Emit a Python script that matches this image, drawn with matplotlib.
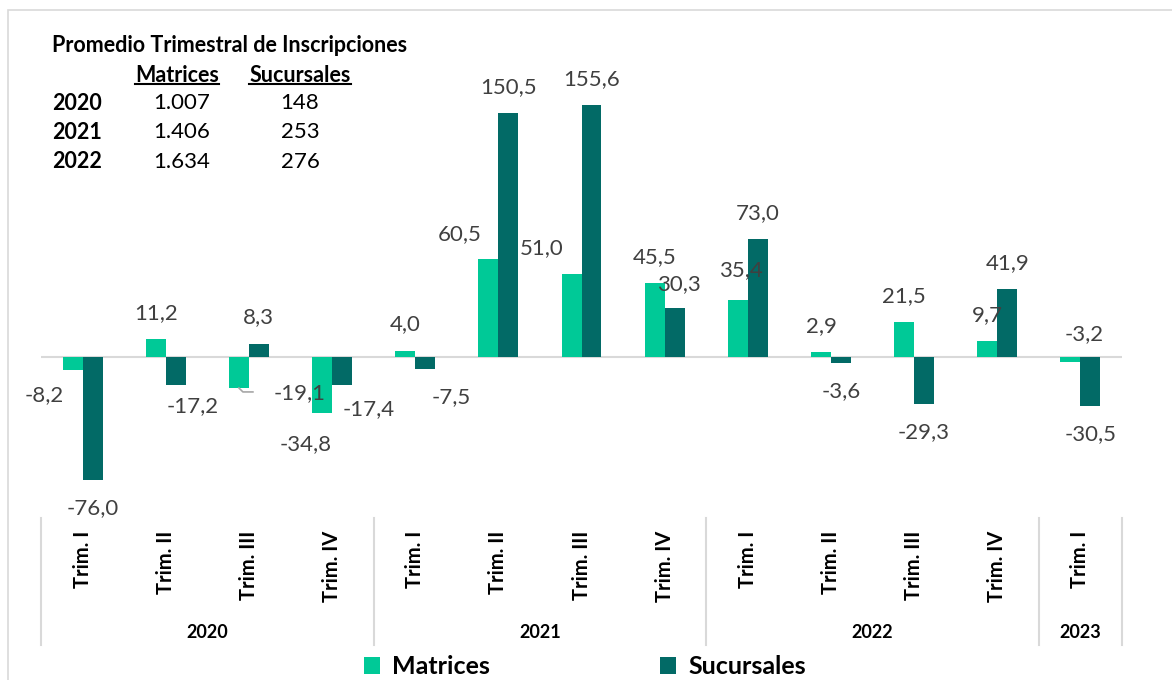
import matplotlib

matplotlib.use("Agg")

import matplotlib.pyplot as plt
import matplotlib.transforms as mtransforms
from matplotlib.lines import Line2D
from matplotlib.patches import Rectangle
import numpy as np

plt.rcParams["font.family"] = ["Lato", "DejaVu Sans"]

# Quarter labels and years
quarters = ["Trim. I", "Trim. II", "Trim. III", "Trim. IV",
            "Trim. I", "Trim. II", "Trim. III", "Trim. IV",
            "Trim. I", "Trim. II", "Trim. III", "Trim. IV",
            "Trim. I"]
years = ["2020", "2021", "2022", "2023"]
quarters_per_year = [4, 4, 4, 1]

# Growth values (%)
matrices = [-8.2, 11.2, -19.1, -34.8, 4.0, 60.5, 51.0, 45.5, 35.4, 2.9, 21.5, 9.7, -3.2]
sucursales = [-76.0, -17.2, 8.3, -17.4, -7.5, 150.5, 155.6, 30.3, 73.0, -3.6, -29.3, 41.9, -30.5]

# Summary table in the upper-left corner
table_title = "Promedio Trimestral de Inscripciones"
table_years = ["2020", "2021", "2022"]
table_matrices = ["1.007", "1.406", "1.634"]
table_sucursales = ["148", "253", "276"]

COLOR_MAT = "#00C997"
COLOR_SUC = "#026A66"
GRID = "#D9D9D9"
LABEL = "#404040"

W, H = 1172, 680


def fx(px):
    return px / W


def fy(py):
    return 1 - py / H


# Label offsets in pixels from the bar tip, where they differ from the default
mat_offsets = {0: (-28, -25), 2: (61, -5), 3: (-16, -31), 5: (-29, 25),
               6: (-30, 26), 8: (3, 30), 12: (14, 28)}
suc_offsets = {1: (17, -21), 3: (27, -24), 4: (26, -28), 7: (4, 24)}

fig = plt.figure(figsize=(W / 100, H / 100), dpi=100)
ax = fig.add_axes([fx(41), fy(518), fx(1122) - fx(41), (518 - 20) / H])

x = np.arange(len(quarters))
bw = 0.24
bars_m = ax.bar(x - bw / 2, matrices, bw, color=COLOR_MAT, label="Matrices")
bars_s = ax.bar(x + bw / 2, sucursales, bw, color=COLOR_SUC, label="Sucursales")

ax.axhline(0, color=GRID, lw=1.5, zorder=0)
ax.set_xlim(-0.5, len(quarters) - 0.5)
ax.set_ylim(-(518 - 357) / 1.62, (357 - 20) / 1.62)
ax.set_xticks([])
ax.set_yticks([])
for s in ax.spines.values():
    s.set_visible(False)


def fmt(v):
    return f"{v:.1f}".replace(".", ",")


def label_bars(xs, vals, offsets):
    for i, (xi, v) in enumerate(zip(xs, vals)):
        dx, dy = offsets.get(i, (0, 26 if v >= 0 else -28))
        ax.annotate(fmt(v), (xi, v), xytext=(dx, dy), textcoords="offset pixels",
                    ha="center", va="center", fontsize=16, color=LABEL,
                    annotation_clip=False)


label_bars(x - bw / 2, matrices, mat_offsets)
label_bars(x + bw / 2, sucursales, suc_offsets)

# leader line for the -19,1 label
i = 2
x0 = x[i] - bw / 2
ax.plot([x0, x0 + 4 / 83.15, x0 + 14 / 83.15],
        [matrices[i], matrices[i] - 4 / 1.62, matrices[i] - 4 / 1.62],
        color="#A6A6A6", lw=1.2, clip_on=False)

# category axis
blend = mtransforms.blended_transform_factory(ax.transData, fig.transFigure)
edges = np.concatenate([[0], np.cumsum(quarters_per_year)]) - 0.5
for e in edges:
    ax.add_line(Line2D([e, e], [fy(518), fy(645)], transform=blend,
                       color=GRID, lw=1.5, clip_on=False))
for xi, q in zip(x, quarters):
    ax.text(xi, fy(531), q, transform=blend, rotation=90, ha="center", va="top",
            fontsize=14.5, fontweight="bold", color="black")
for y0, y1, yr in zip(edges[:-1], edges[1:], years):
    ax.text((y0 + y1) / 2, fy(632), yr, transform=blend, ha="center", va="center",
            fontsize=13, fontweight="bold", color="black")

# summary table
fig.text(fx(52), fy(45), table_title, ha="left", va="center",
         fontsize=15.5, fontweight="bold")
head_m = fig.text(fx(177), fy(75), "Matrices", ha="center", va="center",
                  fontsize=15.5, fontweight="bold")
head_s = fig.text(fx(300), fy(75), "Sucursales", ha="center", va="center",
                  fontsize=15.5, fontweight="bold")
for k, (yr, m, s) in enumerate(zip(table_years, table_matrices, table_sucursales)):
    yy = fy(103 + 29.5 * k)
    fig.text(fx(52), yy, yr, ha="left", va="center", fontsize=15.5, fontweight="bold")
    fig.text(fx(182), yy, m, ha="center", va="center", fontsize=16)
    fig.text(fx(300), yy, s, ha="center", va="center", fontsize=16)

fig.canvas.draw()
inv = fig.transFigure.inverted()
for t in (head_m, head_s):
    bb = t.get_window_extent().transformed(inv)
    fig.add_artist(Line2D([bb.x0, bb.x1], [bb.y0 + 0.002, bb.y0 + 0.002],
                          transform=fig.transFigure, color="black", lw=1.5))

# frame around the chart
fig.add_artist(Rectangle((fx(8), -0.05), 1.2, fy(10) + 0.05, transform=fig.transFigure,
                         fill=False, edgecolor=GRID, lw=1.2))

fig.legend(handles=[bars_m, bars_s], loc="center", bbox_to_anchor=(fx(585), fy(667)),
           ncol=2, frameon=False, prop={"weight": "bold", "size": 18},
           handlelength=0.64, handleheight=0.64, handletextpad=0.48, columnspacing=6.8)

fig.savefig("out.png", dpi=100)
